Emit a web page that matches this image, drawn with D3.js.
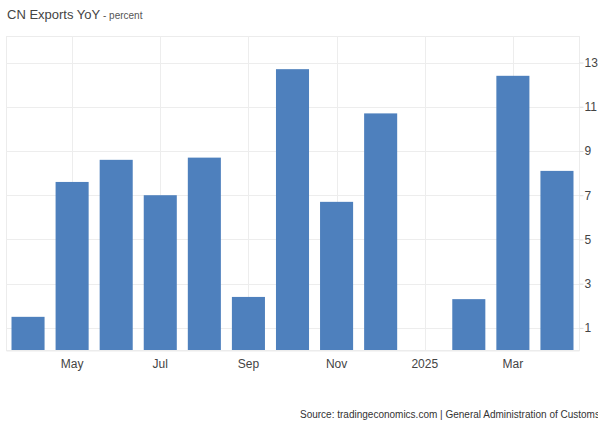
<!DOCTYPE html>
<html>
  <head>
    <meta charset="utf-8">
    <title>CN Exports YoY</title>
    <script src="https://d3js.org/d3.v7.min.js"></script>
    <style>
      body { margin: 0; background: #fff; }
      svg { font-family: Arial, "Liberation Sans", sans-serif; }
    </style>
  </head>
  <body>
    <svg width="598" height="421"></svg>
    <script>
      // months Apr 2024 .. Apr 2025 (Jan 2025 reported together with Feb)
      var months = ["2024-04", "2024-05", "2024-06", "2024-07", "2024-08", "2024-09", "2024-10",
                    "2024-11", "2024-12", "2025-01", "2025-02", "2025-03", "2025-04"];
      var values = [1.5, 7.6, 8.6, 7.0, 8.7, 2.4, 12.7, 6.7, 10.7, null, 2.3, 12.4, 8.1];
      var xLabels = {"2024-05": "May", "2024-07": "Jul", "2024-09": "Sep", "2024-11": "Nov", "2025-01": "2025", "2025-03": "Mar"};
      var yTicks = [1, 3, 5, 7, 9, 11, 13];

      var svg = d3.select("svg");
      var pLeft = 6, pRight = 579, pTop = 36, pBottom = 350;

      var x = d3.scaleBand().domain(months).range([pLeft, pRight]).paddingInner(0.25).paddingOuter(0.125);
      var y = d3.scaleLinear().domain([0, 14.2]).range([pBottom, pTop]);

      // plot frame
      svg.append("rect").attr("x", pLeft + 0.5).attr("y", pTop + 0.5).attr("width", pRight - pLeft).attr("height", pBottom - pTop)
         .attr("fill", "none").attr("stroke", "#ececec");

      // horizontal grid
      svg.selectAll(".hg").data(yTicks).enter().append("line")
         .attr("x1", pLeft).attr("x2", pRight)
         .attr("y1", function (d) { return Math.round(y(d)) + 0.5; }).attr("y2", function (d) { return Math.round(y(d)) + 0.5; })
         .attr("stroke", "#ededed");

      // vertical grid at labelled months
      var labelled = months.filter(function (m) { return xLabels[m]; });
      svg.selectAll(".vg").data(labelled).enter().append("line")
         .attr("x1", function (d) { return Math.round(x(d) + x.bandwidth() / 2) + 0.5; })
         .attr("x2", function (d) { return Math.round(x(d) + x.bandwidth() / 2) + 0.5; })
         .attr("y1", pTop).attr("y2", pBottom)
         .attr("stroke", "#ededed");

      // bars
      svg.selectAll(".bar").data(months.map(function (m, i) { return {m: m, v: values[i]}; })
                                      .filter(function (d) { return d.v != null; }))
         .enter().append("rect")
         .attr("x", function (d) { return x(d.m); })
         .attr("width", x.bandwidth())
         .attr("y", function (d) { return y(d.v); })
         .attr("height", function (d) { return y(0) - y(d.v); })
         .attr("fill", "#4e80bd");

      // right axis
      var yAxis = d3.axisRight(y).tickValues(yTicks).tickSize(4).tickPadding(1);
      var ya = svg.append("g").attr("transform", "translate(" + (pRight + 0.5) + ",0)").call(yAxis);
      ya.select(".domain").remove();
      ya.selectAll("line").attr("stroke", "#ddd");
      ya.selectAll("text").attr("fill", "#444").attr("font-size", "12px");

      // bottom axis
      var xAxis = d3.axisBottom(x).tickValues(labelled).tickFormat(function (d) { return xLabels[d]; }).tickSize(0).tickPadding(9);
      var xa = svg.append("g").attr("transform", "translate(0," + (pBottom + 0.5) + ")").call(xAxis);
      xa.select(".domain").attr("stroke", "#ececec");
      xa.selectAll("text").attr("fill", "#444").attr("font-size", "12px");

      // title
      var t = svg.append("text").attr("x", 7).attr("y", 19).attr("fill", "#444").attr("font-size", "13px");
      t.append("tspan").text("CN Exports YoY");
      t.append("tspan").attr("font-size", "10px").attr("fill", "#555").text(" - percent");

      // source
      svg.append("text").attr("x", 300).attr("y", 418).attr("fill", "#333").attr("font-size", "10px")
         .text("Source: tradingeconomics.com | General Administration of Customs");
    </script>
  </body>
</html>
